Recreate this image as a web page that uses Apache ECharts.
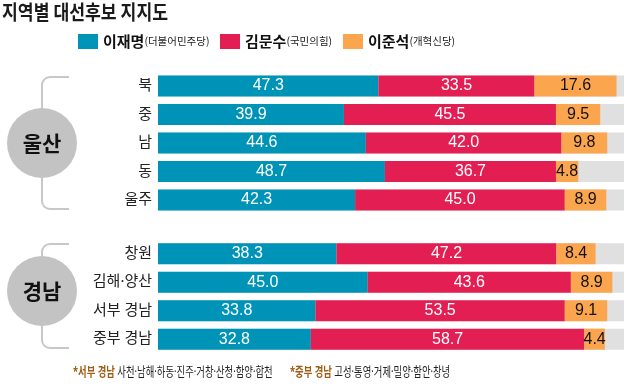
<!DOCTYPE html>
<html><head><meta charset="utf-8">
<script src="https://cdn.jsdelivr.net/npm/echarts@6/dist/echarts.min.js"></script>
<style>html,body{margin:0;padding:0;background:#fff}#c{width:640px;height:386px}</style>
</head><body><div id="c"></div>
<script>
// ---- data ----
const regionsUlsan = ['북', '중', '남', '동', '울주'];
const leeUlsan = [47.3, 39.9, 44.6, 48.7, 42.3];
const kimUlsan = [33.5, 45.5, 42.0, 36.7, 45.0];
const junUlsan = [17.6, 9.5, 9.8, 4.8, 8.9];

const regionsGN = ['창원', '김해·양산', '서부 경남', '중부 경남'];
const leeGN = [38.3, 45.0, 33.8, 32.8];
const kimGN = [47.2, 43.6, 53.5, 58.7];
const junGN = [8.4, 8.9, 9.1, 4.4];

const candidates = ['이재명', '김문수', '이준석'];
const parties = ['(더불어민주당)', '(국민의힘)', '(개혁신당)'];
const groupNames = ['울산', '경남'];

// ---- styles ----
const COLORS = ['#0093b8', '#e31e52', '#fba64f'];
const LABEL_COLORS = ['#ffffff', '#ffffff', '#111111'];
const KR = '"Noto Sans CJK KR", "Noto Sans", sans-serif';
const KRN = '"Noto Sans", "Noto Sans CJK KR", sans-serif';
const NUM = '"Liberation Sans", Arial, sans-serif';

const chart = echarts.init(document.getElementById('c'), null, {renderer: 'canvas'});

function makeSeries(gi, arrays) {
  return arrays.map((arr, i) => ({
    name: candidates[i],
    type: 'bar',
    stack: 'g' + gi,
    xAxisIndex: gi,
    yAxisIndex: gi,
    barWidth: 21,
    data: arr,
    itemStyle: {color: COLORS[i]},
    showBackground: i === 0,
    backgroundStyle: {color: '#e0e0e0'},
    label: {
      show: true,
      position: 'inside',
      color: LABEL_COLORS[i],
      fontFamily: NUM,
      fontSize: 16,
      formatter: p => p.value.toFixed(1)
    }
  }));
}

function yAxis(gi, cats) {
  return {
    type: 'category', gridIndex: gi, data: cats, inverse: true,
    axisLine: {show: false}, axisTick: {show: false},
    axisLabel: {color: '#222', fontSize: 15, fontFamily: KRN, margin: 6}
  };
}
function xAxis(gi) {
  return {type: 'value', gridIndex: gi, min: 0, max: 100, show: false};
}

function legendItem(i, left) {
  return {
    data: [candidates[i]], left: left, top: 34, padding: 0,
    itemWidth: 20, itemHeight: 15, itemGap: 5,
    icon: 'rect',
    formatter: n => '{a|' + n + '}{b|' + parties[i] + '}',
    textStyle: {
      rich: {
        a: {fontSize: 15, fontWeight: 'bold', color: '#111', fontFamily: KR},
        b: {fontSize: 10.5, color: '#222', fontFamily: KR}
      }
    }
  };
}

function bracket(cy, yTop, yBot) {
  const cx = 42, r = 35, xr = 69, rr = 8;
  const st = {stroke: '#c8c8c8', lineWidth: 2, fill: null};
  return [
    {type: 'line', shape: {x1: xr, y1: yTop, x2: cx + rr, y2: yTop}, style: st},
    {type: 'arc', shape: {cx: cx + rr, cy: yTop + rr, r: rr, startAngle: Math.PI, endAngle: Math.PI * 1.5, clockwise: true}, style: st},
    {type: 'line', shape: {x1: cx, y1: yTop + rr, x2: cx, y2: cy}, style: st},
    {type: 'line', shape: {x1: cx, y1: cy, x2: cx, y2: yBot - rr}, style: st},
    {type: 'arc', shape: {cx: cx + rr, cy: yBot - rr, r: rr, startAngle: Math.PI * 0.5, endAngle: Math.PI, clockwise: true}, style: st},
    {type: 'line', shape: {x1: cx + rr, y1: yBot, x2: xr, y2: yBot}, style: st},
    {type: 'circle', shape: {cx: cx, cy: cy, r: r}, style: {fill: '#c3c3c3'}}
  ];
}

const graphics = [
  {type: 'text', x: 2, y: 2, scaleX: 0.86,
   style: {text: '지역별 대선후보 지지도', font: 'bold 20px ' + KR, fill: '#1a1a1a', textVerticalAlign: 'top'}},
  ...bracket(143, 77, 209),
  ...bracket(291, 244, 348),
  {type: 'text', x: 42, y: 143, style: {text: groupNames[0], font: 'bold 21px ' + KR, fill: '#111', textAlign: 'center', textVerticalAlign: 'middle'}},
  {type: 'text', x: 42, y: 291, style: {text: groupNames[1], font: 'bold 21px ' + KR, fill: '#111', textAlign: 'center', textVerticalAlign: 'middle'}},
  {type: 'text', x: 73, y: 372, scaleX: 0.72,
   style: {text: '{s|*서부 경남} {t|사천·남해·하동·진주·거창·산청·함양·합천}', textVerticalAlign: 'middle',
     rich: {s: {font: 'bold 13px ' + KRN, fill: '#a05c14'}, t: {font: '13px ' + KRN, fill: '#222'}}}},
  {type: 'text', x: 290, y: 372, scaleX: 0.72,
   style: {text: '{s|*중부 경남} {t|고성·통영·거제·밀양·함안·창녕}', textVerticalAlign: 'middle',
     rich: {s: {font: 'bold 13px ' + KRN, fill: '#a05c14'}, t: {font: '13px ' + KRN, fill: '#222'}}}}
];

chart.setOption({
  animation: false,
  backgroundColor: '#fff',
  legend: [legendItem(0, 78), legendItem(1, 220), legendItem(2, 343)],
  grid: [
    {left: 158, right: 16, top: 71.75, height: 142.5},
    {left: 158, right: 16, top: 239.4, height: 114}
  ],
  xAxis: [xAxis(0), xAxis(1)],
  yAxis: [yAxis(0, regionsUlsan), yAxis(1, regionsGN)],
  series: [
    ...makeSeries(0, [leeUlsan, kimUlsan, junUlsan]),
    ...makeSeries(1, [leeGN, kimGN, junGN])
  ],
  graphic: graphics
});
</script>
</body></html>
